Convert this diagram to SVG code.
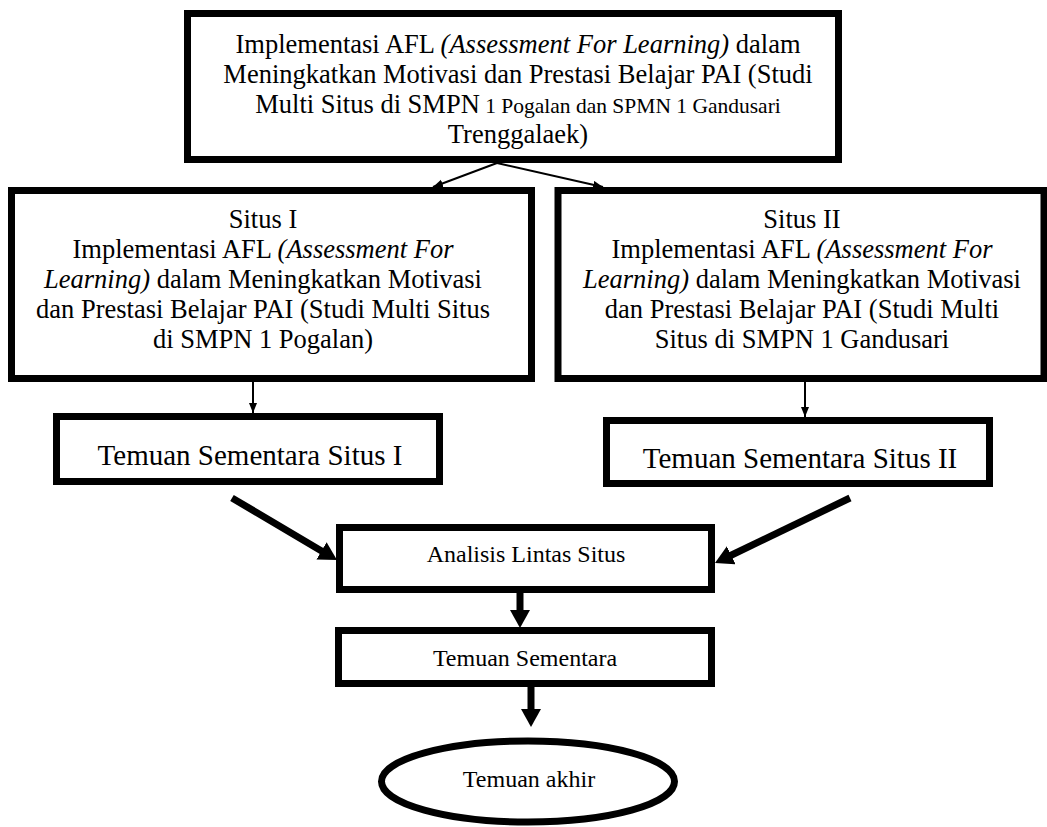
<svg xmlns="http://www.w3.org/2000/svg" width="1047" height="827" viewBox="0 0 1047 827">
<style>
.box{fill:#fff;stroke:#000;stroke-width:7}
.t{font-family:"Liberation Serif","Times New Roman","DejaVu Serif",serif;fill:#000;text-anchor:middle}
.f26{font-size:26.5px}
.f24{font-size:24px}
.f29{font-size:29px}
.it{font-style:italic}
.thin{stroke:#000;stroke-width:2;fill:none}
.thick{stroke:#000;stroke-width:7;fill:none}
</style>
<defs>
<marker id="ah" markerUnits="userSpaceOnUse" markerWidth="11" markerHeight="9" refX="10" refY="4" orient="auto">
<path d="M0,0 L10,4 L0,8 z" fill="#000"/>
</marker>
<marker id="ahb" markerUnits="userSpaceOnUse" markerWidth="19" markerHeight="21" refX="3" refY="10" orient="auto">
<path d="M0,0 L18,10 L0,20 z" fill="#000"/>
</marker>
</defs>
<rect width="1047" height="827" fill="#fff"/>

<g id="connectors">
<line class="thin" x1="497" y1="163" x2="433" y2="187" marker-end="url(#ah)"/>
<line class="thin" x1="497" y1="163" x2="603" y2="187" marker-end="url(#ah)"/>
<line class="thin" x1="253" y1="382" x2="253" y2="413" marker-end="url(#ah)"/>
<line class="thin" x1="805" y1="382" x2="805" y2="417" marker-end="url(#ah)"/>
<line class="thick" x1="232" y1="498" x2="324.1" y2="552.4" marker-end="url(#ahb)"/>
<line class="thick" x1="850" y1="498" x2="728.5" y2="556.5" marker-end="url(#ahb)"/>
<line class="thick" x1="520" y1="583" x2="520" y2="613" marker-end="url(#ahb)"/>
<line class="thick" x1="531" y1="687" x2="531" y2="712" marker-end="url(#ahb)"/>
</g>

<g id="node-top">
<rect class="box" x="187.5" y="13.5" width="651" height="146"/>
<text class="t f26" x="518" y="53">Implementasi AFL <tspan class="it">(Assessment For Learning)</tspan> dalam</text>
<text class="t f26" x="518" y="83">Meningkatkan Motivasi dan Prestasi Belajar PAI (Studi</text>
<text class="t f26" x="518" y="113">Multi Situs di SMPN<tspan style="font-size:21.5px"> 1 Pogalan dan SPMN 1 Gandusari</tspan></text>
<text class="t f26" x="518" y="143">Trenggalaek)</text>
</g>

<g id="node-situs1">
<rect class="box" x="11.5" y="190.5" width="520" height="188"/>
<text class="t f26" x="263" y="228">Situs I</text>
<text class="t f26" x="263" y="258">Implementasi AFL <tspan class="it">(Assessment For</tspan></text>
<text class="t f26" x="263" y="288"><tspan class="it">Learning)</tspan> dalam Meningkatkan Motivasi</text>
<text class="t f26" x="263" y="318">dan Prestasi Belajar PAI (Studi Multi Situs</text>
<text class="t f26" x="263" y="348">di SMPN 1 Pogalan)</text>
</g>

<g id="node-situs2">
<rect class="box" x="558" y="190.5" width="486" height="188"/>
<text class="t f26" x="802" y="228">Situs II</text>
<text class="t f26" x="802" y="258">Implementasi AFL <tspan class="it">(Assessment For</tspan></text>
<text class="t f26" x="802" y="288"><tspan class="it">Learning)</tspan> dalam Meningkatkan Motivasi</text>
<text class="t f26" x="802" y="318">dan Prestasi Belajar PAI (Studi Multi</text>
<text class="t f26" x="802" y="348">Situs di SMPN 1 Gandusari</text>
</g>

<g id="node-temuan1">
<rect class="box" x="56.5" y="416.5" width="383" height="65"/>
<text class="t f29" x="250" y="465">Temuan Sementara Situs I</text>
</g>

<g id="node-temuan2">
<rect class="box" x="606.5" y="420.5" width="383" height="63"/>
<text class="t f29" x="800" y="468">Temuan Sementara Situs II</text>
</g>

<g id="node-analisis">
<rect class="box" x="339.5" y="527.5" width="372" height="62"/>
<text class="t f24" x="526" y="562">Analisis Lintas Situs</text>
</g>

<g id="node-sementara">
<rect class="box" x="338.5" y="630.5" width="373" height="53"/>
<text class="t f24" x="525" y="666">Temuan Sementara</text>
</g>

<g id="node-akhir">
<ellipse class="box" cx="528" cy="781.5" rx="146.5" ry="40.5"/>
<text class="t f24" x="529" y="787">Temuan akhir</text>
</g>
</svg>
